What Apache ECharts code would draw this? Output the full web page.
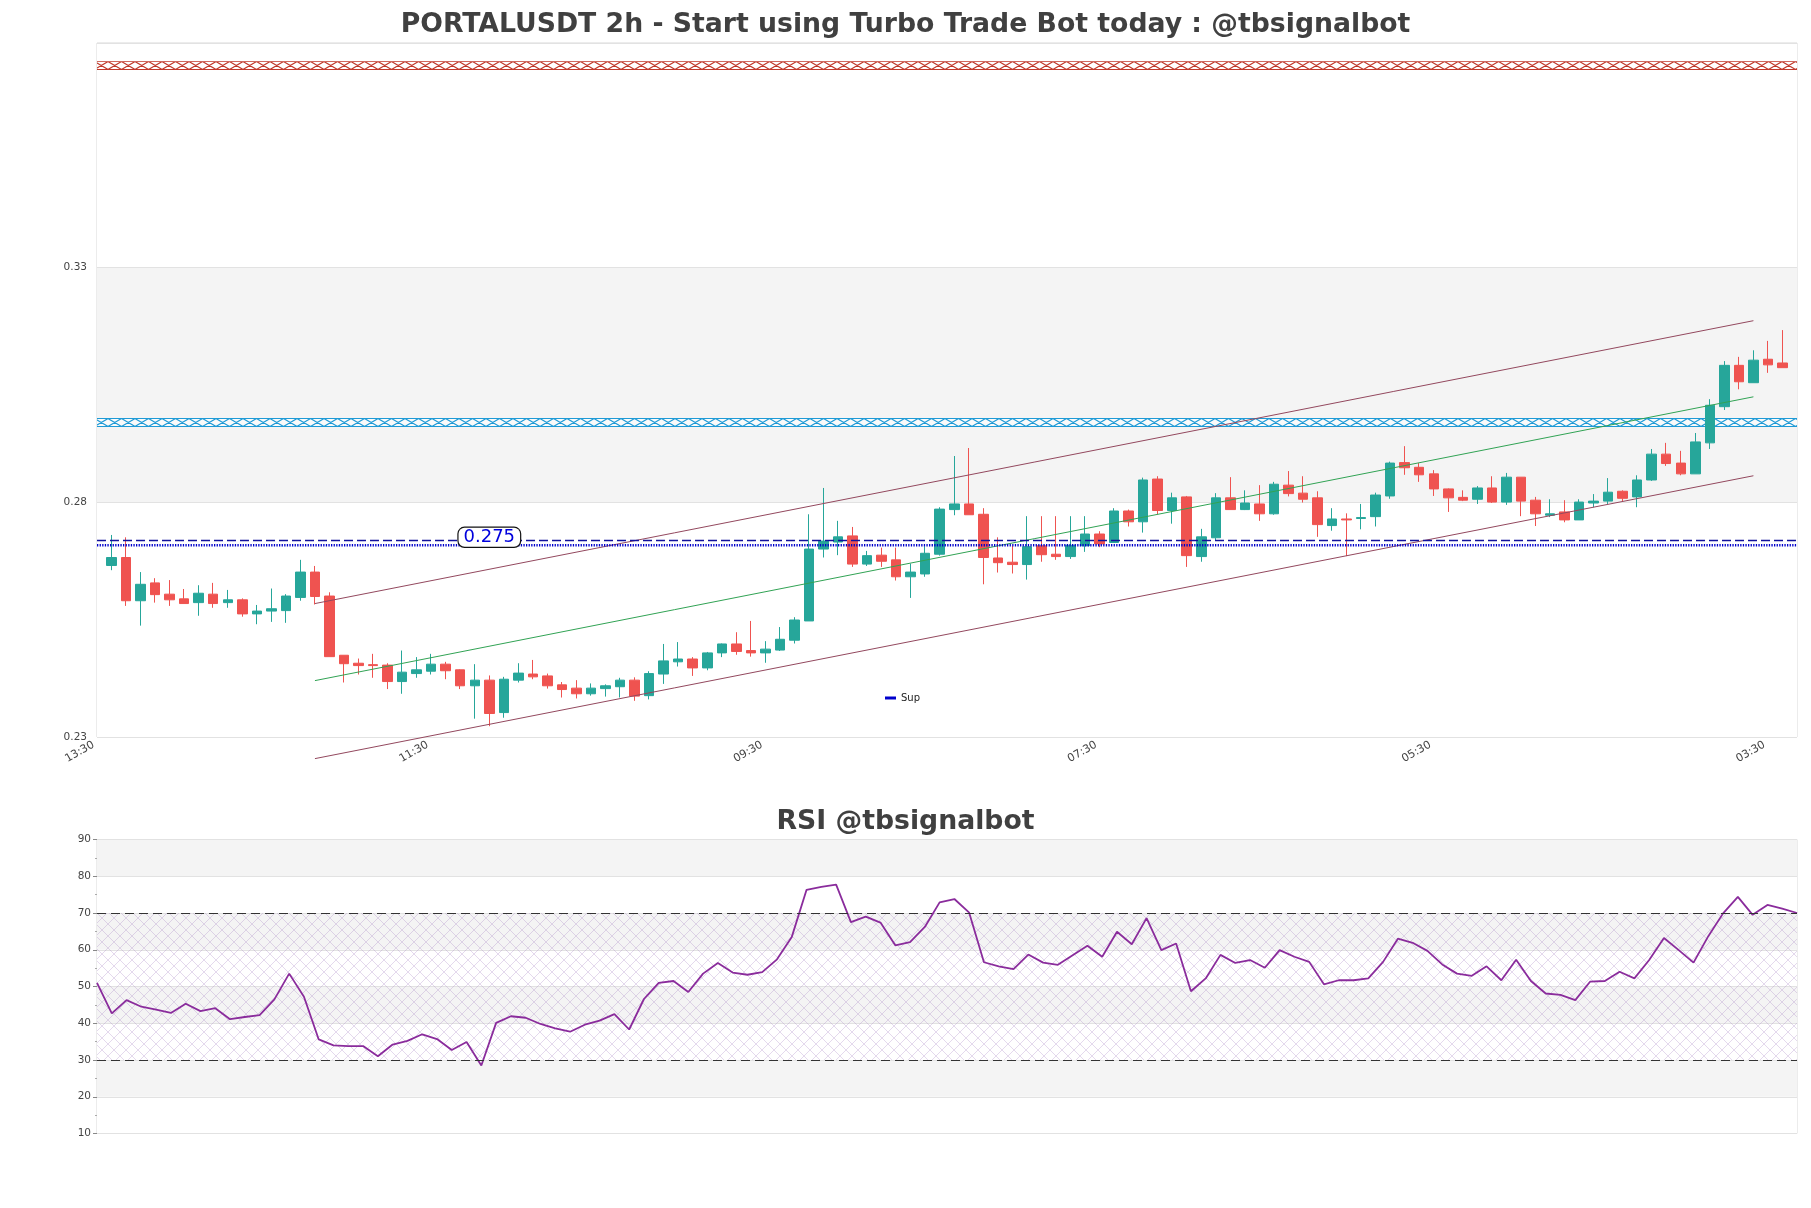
<!DOCTYPE html>
<html>
<head>
<meta charset="utf-8">
<title>PORTALUSDT 2h</title>
<script src="https://cdn.jsdelivr.net/npm/echarts@6/dist/echarts.min.js"></script>
<style>
  html, body { margin: 0; padding: 0; background: #fff; }
  #chart { width: 1811px; height: 1208px; }
</style>
</head>
<body>
<div id="chart"></div>
<script>
// 2h candles
const openP = [
  0.2665, 0.2682, 0.2590, 0.2628, 0.2604, 0.2594, 0.2586, 0.2604, 0.2586, 0.2592,
  0.2562, 0.2568, 0.2569, 0.2597, 0.2651, 0.2600, 0.2474, 0.2457, 0.2454, 0.2453,
  0.2418, 0.2435, 0.2440, 0.2455, 0.2443, 0.2409, 0.2421, 0.2352, 0.2421, 0.2434,
  0.2430, 0.2411, 0.2404, 0.2392, 0.2403, 0.2407, 0.2421, 0.2388, 0.2434, 0.2460,
  0.2466, 0.2447, 0.2479, 0.2498, 0.2484, 0.2479, 0.2485, 0.2506, 0.2547, 0.2700,
  0.2715, 0.2728, 0.2668, 0.2687, 0.2677, 0.2641, 0.2647, 0.2689, 0.2784, 0.2796,
  0.2774, 0.2681, 0.2672, 0.2667, 0.2707, 0.2689, 0.2684, 0.2707, 0.2732, 0.2714,
  0.2781, 0.2758, 0.2849, 0.2782, 0.2811, 0.2684, 0.2724, 0.2809, 0.2784, 0.2796,
  0.2775, 0.2836, 0.2819, 0.2809, 0.2750, 0.2764, 0.2765, 0.2769, 0.2813, 0.2884,
  0.2874, 0.2860, 0.2828, 0.2810, 0.2806, 0.2830, 0.2800, 0.2853, 0.2804, 0.2772,
  0.2779, 0.2762, 0.2798, 0.2802, 0.2823, 0.2811, 0.2847, 0.2902, 0.2883, 0.2860,
  0.2926, 0.3003, 0.3091, 0.3054, 0.3104, 0.3096
];
const closeP = [
  0.2682, 0.2590, 0.2625, 0.2603, 0.2592, 0.2584, 0.2606, 0.2584, 0.2592, 0.2562,
  0.2568, 0.2573, 0.2600, 0.2651, 0.2599, 0.2471, 0.2456, 0.2452, 0.2452, 0.2418,
  0.2438, 0.2443, 0.2455, 0.2441, 0.2409, 0.2421, 0.2350, 0.2423, 0.2436, 0.2428,
  0.2409, 0.2401, 0.2392, 0.2404, 0.2409, 0.2421, 0.2387, 0.2435, 0.2462, 0.2466,
  0.2447, 0.2479, 0.2498, 0.2482, 0.2479, 0.2487, 0.2508, 0.2549, 0.2700, 0.2717,
  0.2726, 0.2668, 0.2686, 0.2674, 0.2641, 0.2651, 0.2691, 0.2785, 0.2796, 0.2773,
  0.2682, 0.2671, 0.2667, 0.2705, 0.2688, 0.2684, 0.2708, 0.2732, 0.2711, 0.2781,
  0.2758, 0.2847, 0.2782, 0.2809, 0.2686, 0.2726, 0.2809, 0.2784, 0.2798, 0.2775,
  0.2838, 0.2818, 0.2806, 0.2752, 0.2764, 0.2762, 0.2767, 0.2815, 0.2883, 0.2873,
  0.2858, 0.2828, 0.2809, 0.2804, 0.2830, 0.2800, 0.2853, 0.2802, 0.2775, 0.2775,
  0.2762, 0.2800, 0.2802, 0.2821, 0.2808, 0.2847, 0.2902, 0.2882, 0.2860, 0.2928,
  0.3006, 0.3091, 0.3056, 0.3102, 0.3092, 0.3086
];
const lowP = [
  0.2655, 0.2579, 0.2537, 0.2586, 0.2579, 0.2584, 0.2558, 0.2575, 0.2575, 0.2556,
  0.2540, 0.2545, 0.2543, 0.2590, 0.2582, 0.2471, 0.2416, 0.2433, 0.2426, 0.2402,
  0.2392, 0.2426, 0.2433, 0.2423, 0.2402, 0.2339, 0.2323, 0.2341, 0.2416, 0.2423,
  0.2403, 0.2384, 0.2382, 0.2388, 0.2386, 0.2384, 0.2377, 0.2380, 0.2413, 0.2450,
  0.2430, 0.2442, 0.2470, 0.2475, 0.2471, 0.2458, 0.2483, 0.2499, 0.2547, 0.2682,
  0.2687, 0.2662, 0.2664, 0.2662, 0.2633, 0.2596, 0.2641, 0.2686, 0.2772, 0.2773,
  0.2625, 0.2650, 0.2648, 0.2635, 0.2673, 0.2677, 0.2679, 0.2694, 0.2704, 0.2714,
  0.2748, 0.2735, 0.2774, 0.2754, 0.2662, 0.2673, 0.2719, 0.2784, 0.2783, 0.2760,
  0.2773, 0.2812, 0.2799, 0.2726, 0.2739, 0.2685, 0.2742, 0.2748, 0.2807, 0.2858,
  0.2843, 0.2813, 0.2779, 0.2802, 0.2796, 0.2798, 0.2794, 0.2770, 0.2749, 0.2768,
  0.2757, 0.2762, 0.2789, 0.2796, 0.2802, 0.2789, 0.2845, 0.2877, 0.2857, 0.2860,
  0.2913, 0.2996, 0.3040, 0.3054, 0.3075, 0.3086
];
const highP = [
  0.2730, 0.2725, 0.2651, 0.2638, 0.2634, 0.2615, 0.2623, 0.2628, 0.2613, 0.2595,
  0.2581, 0.2616, 0.2604, 0.2677, 0.2664, 0.2608, 0.2474, 0.2467, 0.2477, 0.2457,
  0.2484, 0.2470, 0.2477, 0.2460, 0.2444, 0.2455, 0.2431, 0.2428, 0.2457, 0.2464,
  0.2435, 0.2417, 0.2421, 0.2414, 0.2412, 0.2426, 0.2427, 0.2440, 0.2498, 0.2502,
  0.2470, 0.2481, 0.2499, 0.2523, 0.2547, 0.2504, 0.2534, 0.2555, 0.2774, 0.2830,
  0.2760, 0.2747, 0.2696, 0.2703, 0.2703, 0.2669, 0.2706, 0.2789, 0.2898, 0.2915,
  0.2787, 0.2725, 0.2707, 0.2770, 0.2770, 0.2770, 0.2770, 0.2770, 0.2738, 0.2787,
  0.2784, 0.2852, 0.2855, 0.2820, 0.2813, 0.2743, 0.2819, 0.2853, 0.2825, 0.2836,
  0.2843, 0.2866, 0.2855, 0.2823, 0.2787, 0.2776, 0.2796, 0.2820, 0.2886, 0.2919,
  0.2883, 0.2868, 0.2829, 0.2825, 0.2834, 0.2855, 0.2862, 0.2853, 0.2811, 0.2806,
  0.2804, 0.2806, 0.2817, 0.2851, 0.2825, 0.2857, 0.2913, 0.2926, 0.2909, 0.2947,
  0.3019, 0.3100, 0.3109, 0.3123, 0.3143, 0.3166
];
const rsi = [
  51.0, 42.7, 46.3, 44.5, 43.7, 42.8, 45.3, 43.3, 44.1, 41.1,
  41.7, 42.2, 46.5, 53.5, 47.2, 35.6, 34.0, 33.8, 33.8, 31.0,
  34.2, 35.2, 37.0, 35.7, 32.7, 34.9, 28.5, 40.1, 41.9, 41.5,
  39.8, 38.6, 37.7, 39.6, 40.7, 42.5, 38.3, 46.6, 51.0, 51.5,
  48.5, 53.5, 56.4, 53.8, 53.2, 53.9, 57.4, 63.5, 76.3, 77.1,
  77.7, 67.5, 69.0, 67.4, 61.2, 62.1, 66.2, 72.9, 73.8, 70.1,
  56.6, 55.5, 54.7, 58.7, 56.5, 55.9, 58.5, 61.1, 58.1, 64.9,
  61.5, 68.6, 59.9, 61.7, 48.7, 52.2, 58.6, 56.4, 57.2, 55.1,
  59.9, 58.1, 56.7, 50.6, 51.7, 51.7, 52.2, 56.7, 63.0, 61.9,
  59.7, 56.0, 53.5, 52.9, 55.5, 51.7, 57.3, 51.5, 48.1, 47.7,
  46.3, 51.3, 51.5, 54.0, 52.2, 57.2, 63.2, 59.9, 56.5, 63.7,
  69.9, 74.4, 69.5, 72.2, 71.2, 70.0
];
const tickLabels = ['13:30', '11:30', '09:30', '07:30', '05:30', '03:30'];
const tickEvery = 23;           // bars between time labels
const priceTicks = [0.23, 0.28, 0.33];
const priceRange = [0.23, 0.3777];
// regression channel: first / last bar and its values
const channelBars = [14, 113];
const channelUpper = [0.2584, 0.3186];
const channelMid = [0.2420, 0.3024];
const channelLower = [0.2254, 0.2856];
const supLevel = 0.2708;
const supDash = 0.2718;
const supLabel = '0.275';
const supLabelBar = 26;
const redBand = [0.3719, 0.3738];
const blueBand = [0.2960, 0.2979];
const rsiLevels = [30, 70];

const FONT = 'DejaVu Sans';
const UP = '#26a69a', DOWN = '#ef5350';

// one empty slot on each side, like the plot margins
const slots = openP.length + 2;
const cats = [];
for (let k = 0; k < slots; k++) cats.push(String(k));
const candles = [['-', '-', '-', '-']];
for (let i = 0; i < openP.length; i++) candles.push([openP[i], closeP[i], lowP[i], highP[i]]);
candles.push(['-', '-', '-', '-']);

const seg = (vals) => [[channelBars[0] + 1, vals[0]], [channelBars[1] + 1, vals[1]]];
const flat = (v) => [[0, v], [slots - 1, v]];
const isTick = (idx) => idx % tickEvery === 0;

const chart = echarts.init(document.getElementById('chart'));

const option = {
  animation: false,
  backgroundColor: '#fff',
  textStyle: { fontFamily: FONT },
  title: [
    {
      text: 'PORTALUSDT 2h - Start using Turbo Trade Bot today : @tbsignalbot',
      left: 'center', top: 7,
      textStyle: { fontSize: 26.7, fontWeight: 'bold', color: '#404040', fontFamily: FONT }
    },
    {
      text: 'RSI @tbsignalbot',
      left: 'center', top: 804,
      textStyle: { fontSize: 26.7, fontWeight: 'bold', color: '#404040', fontFamily: FONT }
    }
  ],
  legend: {
    data: ['Sup'],
    left: 880, top: 688,
    icon: 'rect', itemWidth: 11, itemHeight: 3, itemGap: 4,
    textStyle: { fontSize: 10, color: '#222', fontFamily: FONT }
  },
  grid: [
    { left: 97, top: 43, width: 1700, height: 694, show: true, borderColor: '#d9d9d9', borderWidth: 1 },
    { left: 97, top: 839.5, width: 1700, height: 294, show: true, borderColor: '#d9d9d9', borderWidth: 1 }
  ],
  xAxis: [
    {
      type: 'category', gridIndex: 0, data: cats, boundaryGap: false,
      axisLine: { show: false },
      axisTick: { show: false },
      splitLine: { show: false },
      axisLabel: {
        interval: isTick, rotate: 30, margin: 5, padding: [0, 4, 0, 0],
        fontSize: 11, color: '#444', fontFamily: FONT,
        formatter: (v, idx) => (isTick(idx) ? tickLabels[idx / tickEvery] : '')
      }
    },
    {
      type: 'category', gridIndex: 1, data: rsi.map((_, i) => String(i)), boundaryGap: false,
      axisLine: { show: false }, axisTick: { show: false }, axisLabel: { show: false },
      splitLine: { show: false }
    }
  ],
  yAxis: [
    {
      type: 'value', gridIndex: 0, min: priceRange[0], max: priceRange[1], interval: 0.05,
      axisLine: { show: false }, axisTick: { show: false },
      axisLabel: {
        fontSize: 10.5, color: '#444', margin: 10, fontFamily: FONT,
        formatter: (v) => (priceTicks.some((t) => Math.abs(t - v) < 1e-6) ? v.toFixed(2) : '')
      },
      splitLine: { show: true, lineStyle: { color: '#e2e2e2', width: 1 } },
      splitArea: { show: true, areaStyle: { color: ['#ffffff', '#f4f4f4'] } }
    },
    {
      type: 'value', gridIndex: 1, min: 10, max: 90, interval: 10,
      axisLine: { show: false },
      axisTick: { show: true, length: 4, lineStyle: { color: '#888' } },
      minorTick: { show: true, splitNumber: 2, length: 2, lineStyle: { color: '#aaa' } },
      axisLabel: { fontSize: 10.5, color: '#444', margin: 6, fontFamily: FONT },
      splitLine: { show: true, lineStyle: { color: '#e2e2e2', width: 1 } },
      splitArea: { show: true, areaStyle: { color: ['#ffffff', '#f4f4f4'] } }
    }
  ],
  series: [
    {
      id: 'bands', type: 'line', xAxisIndex: 0, yAxisIndex: 0, data: [], z: 1
    },
    {
      type: 'candlestick', name: 'price', xAxisIndex: 0, yAxisIndex: 0,
      data: candles, barWidth: 10, z: 3,
      itemStyle: { color: UP, color0: DOWN, borderColor: UP, borderColor0: DOWN, borderWidth: 1 }
    },
    {
      type: 'line', xAxisIndex: 0, yAxisIndex: 0, data: seg(channelUpper), clip: false,
      showSymbol: false, symbol: 'none', z: 4, silent: true,
      lineStyle: { color: '#93485e', width: 1 }
    },
    {
      type: 'line', xAxisIndex: 0, yAxisIndex: 0, data: seg(channelMid), clip: false,
      showSymbol: false, symbol: 'none', z: 4, silent: true,
      lineStyle: { color: '#31a354', width: 1 }
    },
    {
      type: 'line', xAxisIndex: 0, yAxisIndex: 0, data: seg(channelLower), clip: false,
      showSymbol: false, symbol: 'none', z: 4, silent: true,
      lineStyle: { color: '#93485e', width: 1 }
    },
    {
      type: 'line', name: 'level', xAxisIndex: 0, yAxisIndex: 0, data: flat(supDash),
      showSymbol: false, symbol: 'none', z: 4, silent: true,
      lineStyle: { color: '#10109a', width: 1.5, type: [9, 4] },
      markPoint: {
        symbol: 'rect', symbolSize: 1, silent: true,
        itemStyle: { color: 'rgba(0,0,0,0)' },
        data: [{ coord: [supLabelBar + 1, supDash + 0.0007] }],
        label: {
          show: true, position: 'inside', formatter: supLabel,
          fontSize: 18, color: '#0000dd', fontFamily: FONT,
          backgroundColor: '#fff', borderColor: '#111', borderWidth: 1.2, borderRadius: 6,
          padding: [1, 5, 0, 5]
        }
      }
    },
    {
      type: 'line', name: 'Sup', xAxisIndex: 0, yAxisIndex: 0, data: flat(supLevel),
      showSymbol: false, symbol: 'none', z: 4, silent: true, color: '#0000cc',
      lineStyle: { color: '#0000cc', width: 2.5, type: [1.3, 1.3] }
    },
    {
      id: 'rsi', type: 'line', name: 'RSI', xAxisIndex: 1, yAxisIndex: 1, data: rsi,
      showSymbol: false, symbol: 'none', z: 4, silent: true,
      lineStyle: { color: '#8a2c9c', width: 1.8 },
      markLine: {
        silent: true, symbol: 'none', label: { show: false },
        lineStyle: { color: '#333', width: 1.2, type: [9, 5] },
        data: rsiLevels.map((v) => ({ yAxis: v }))
      }
    }
  ]
};

chart.setOption(option);

// hatched horizontal bands: tall pattern image so the motif lands on the band
function bandPattern(color, lo, hi) {
  const yTop = Math.round(chart.convertToPixel({ yAxisIndex: 0 }, hi));
  const yBot = Math.round(chart.convertToPixel({ yAxisIndex: 0 }, lo));
  const c = document.createElement('canvas');
  c.width = 27; c.height = 1208;
  const ctx = c.getContext('2d');
  ctx.fillStyle = 'rgba(255,255,255,0.55)';
  ctx.fillRect(0, yTop, 27, yBot - yTop);
  ctx.strokeStyle = color; ctx.lineWidth = 1.15;
  ctx.beginPath();
  ctx.moveTo(0, yTop + 0.5); ctx.lineTo(27, yTop + 0.5);
  ctx.moveTo(0, yBot - 0.5); ctx.lineTo(27, yBot - 0.5);
  for (let k = 0; k < 2; k++) {
    const x0 = k * 13.5;
    ctx.moveTo(x0, yTop + 0.5); ctx.lineTo(x0 + 13.5, yBot - 0.5);
    ctx.moveTo(x0, yBot - 0.5); ctx.lineTo(x0 + 13.5, yTop + 0.5);
  }
  ctx.stroke();
  return { image: c, repeat: 'repeat' };
}

function hatchTile() {
  const c = document.createElement('canvas');
  c.width = 12; c.height = 12;
  const ctx = c.getContext('2d');
  ctx.strokeStyle = 'rgba(175,140,200,0.42)'; ctx.lineWidth = 0.8;
  ctx.beginPath();
  ctx.moveTo(0, 0); ctx.lineTo(12, 12);
  ctx.moveTo(12, 0); ctx.lineTo(0, 12);
  ctx.stroke();
  return { image: c, repeat: 'repeat' };
}

chart.setOption({
  series: [
    {
      id: 'bands',
      markArea: {
        silent: true, label: { show: false },
        data: [
          [{ yAxis: redBand[0], itemStyle: { color: bandPattern('#c0392b', redBand[0], redBand[1]) } }, { yAxis: redBand[1] }],
          [{ yAxis: blueBand[0], itemStyle: { color: bandPattern('#1e9ad6', blueBand[0], blueBand[1]) } }, { yAxis: blueBand[1] }]
        ]
      }
    },
    {
      id: 'rsi',
      markArea: {
        silent: true, label: { show: false },
        itemStyle: { color: hatchTile() },
        data: [[{ yAxis: rsiLevels[0] }, { yAxis: rsiLevels[1] }]]
      }
    }
  ]
});
</script>
</body>
</html>
